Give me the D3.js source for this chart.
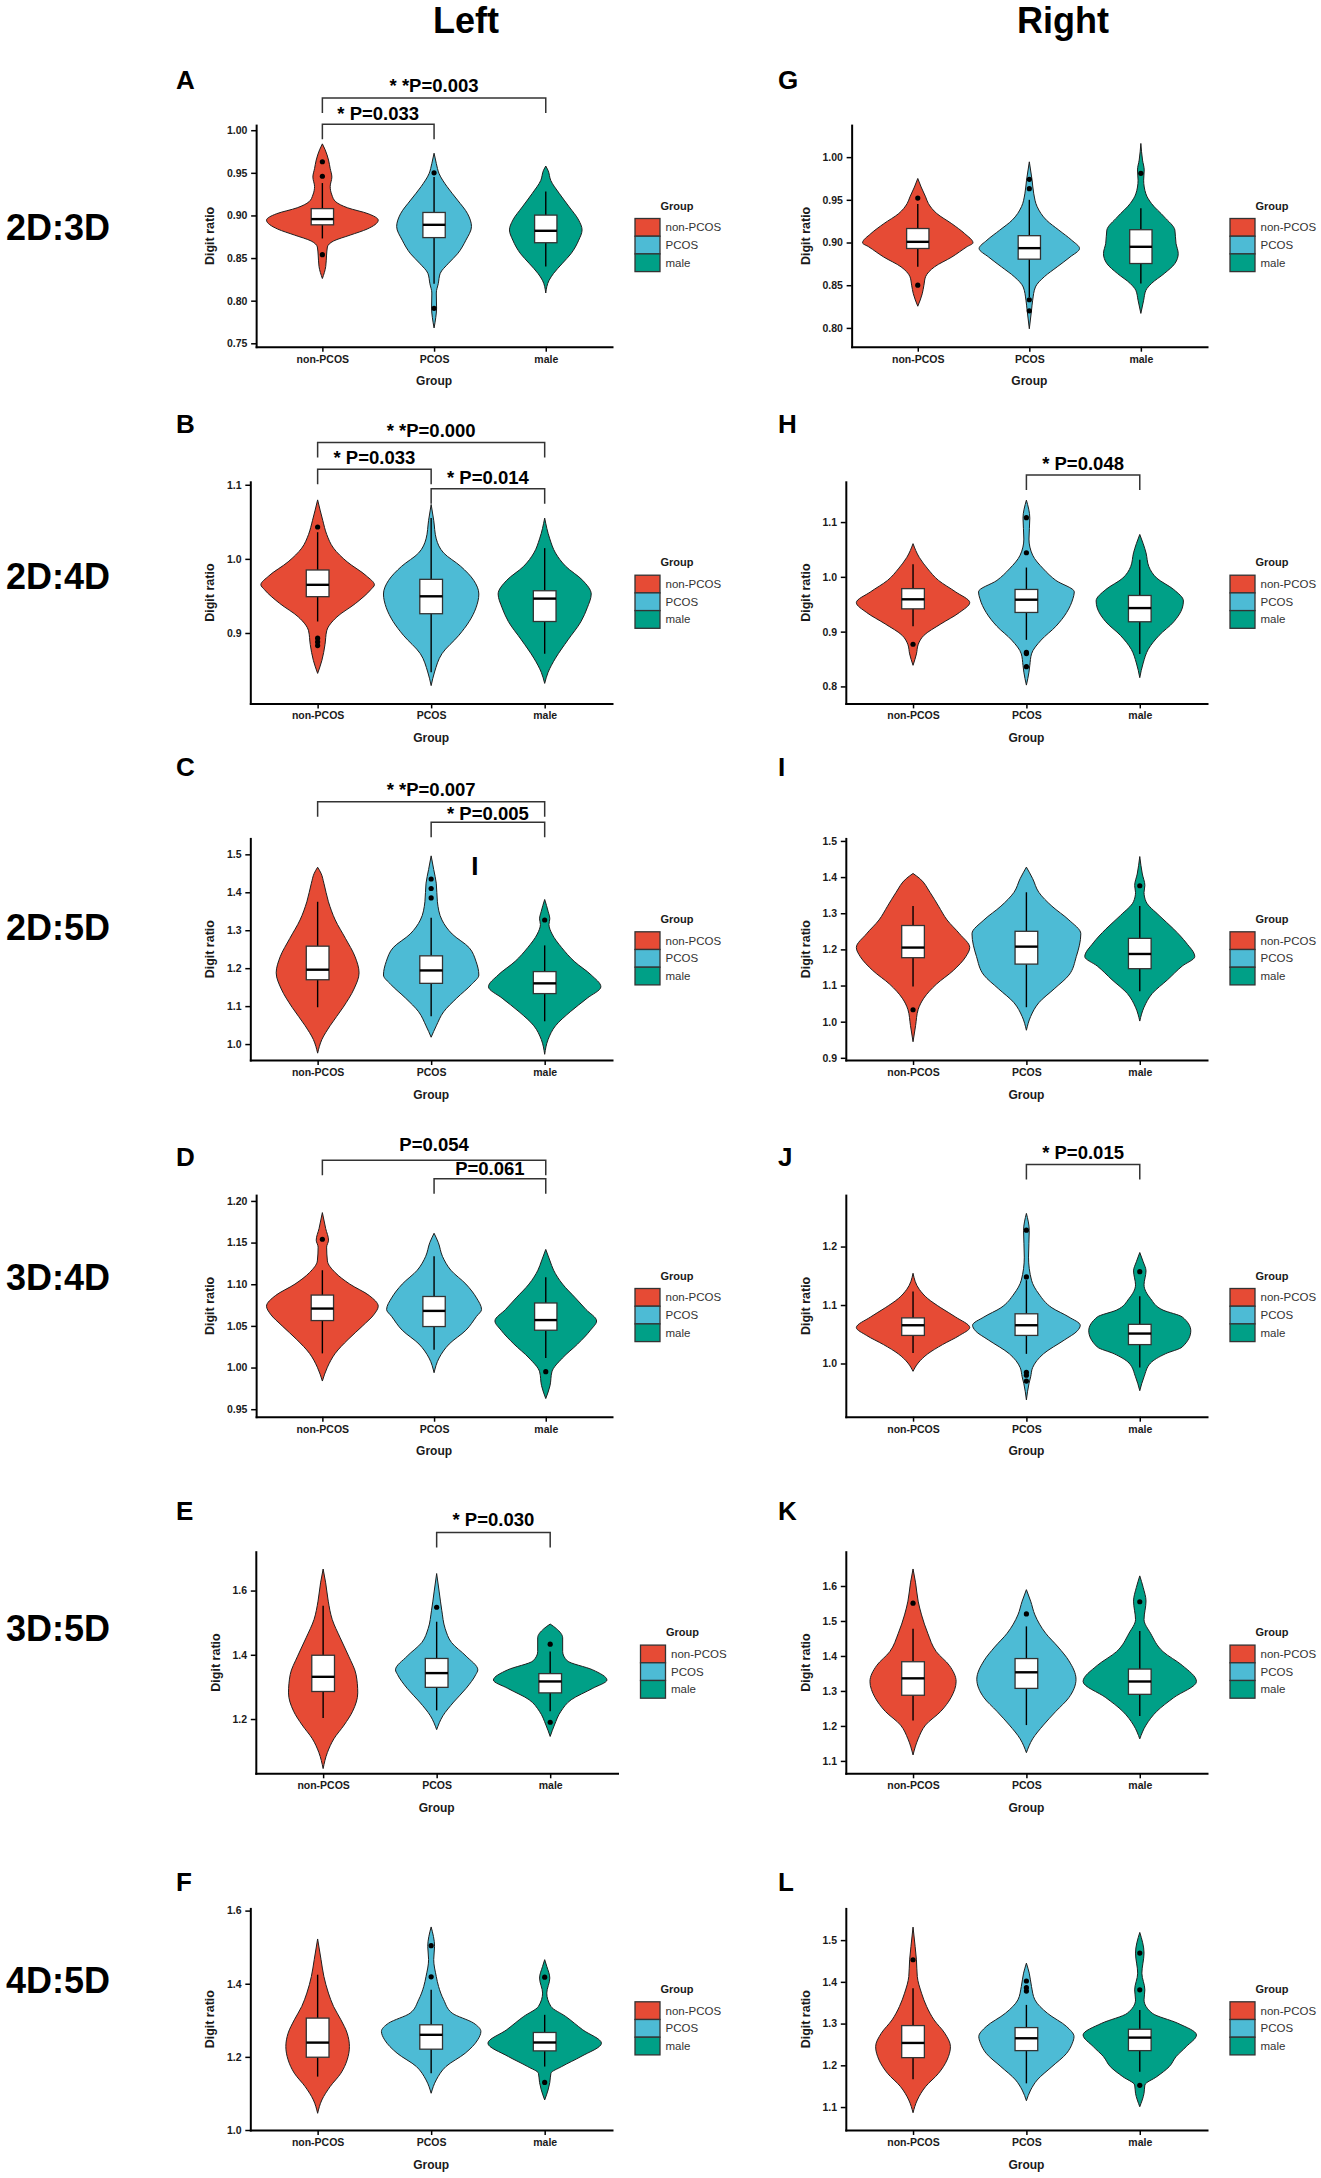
<!DOCTYPE html>
<html><head><meta charset="utf-8">
<script src="https://cdn.jsdelivr.net/npm/d3@7"></script>
<style>
body{margin:0;background:#fff}
svg{display:block}
text{font-family:"Liberation Sans",Arial,Helvetica,sans-serif}
</style>
</head><body>
<svg id="chart" width="1321" height="2178"></svg>
<script>
// ---------------- DATA ----------------
const groups = ["non-PCOS", "PCOS", "male"];
const groupColors = ["#E64B35", "#4DBBD5", "#00A087"];
const panelLetters = ["A","B","C","D","E","F","G","H","I","J","K","L"];
const rowLabels = ["2D:3D","2D:4D","2D:5D","3D:4D","3D:5D","4D:5D"];
const columnTitles = ["Left","Right"];
const yAxisTitle = "Digit ratio";
const xAxisTitle = "Group";
const legendTitle = "Group";

const yDomains = [[0.746,1.006],[0.805,1.104],[0.958,1.542],[0.941,1.207],[1.031,1.721],[1.0,1.606],
                  [0.778,1.0375],[0.769,1.1735],[0.894,1.507],[0.909,1.288],[1.0646,1.698],[1.045,1.576]];
const yTickValues = [
  [0.75,0.80,0.85,0.90,0.95,1.00],
  [0.9,1.0,1.1],
  [1.0,1.1,1.2,1.3,1.4,1.5],
  [0.95,1.00,1.05,1.10,1.15,1.20],
  [1.2,1.4,1.6],
  [1.0,1.2,1.4,1.6],
  [0.80,0.85,0.90,0.95,1.00],
  [0.8,0.9,1.0,1.1],
  [0.9,1.0,1.1,1.2,1.3,1.4,1.5],
  [1.0,1.1,1.2],
  [1.1,1.2,1.3,1.4,1.5,1.6],
  [1.1,1.2,1.3,1.4,1.5]
];
const yTickDecimals = [2,1,1,2,1,1,2,1,1,1,1,1];

// violin outline: [value, relative half-width]
const violinProfiles = [
 [ // A
  [[0.826,0],[0.84,0.06],[0.8535,0.075],[0.863,0.09],[0.870,0.2],[0.877,0.5],[0.884,0.8],[0.8945,1.0],[0.902,0.82],[0.909,0.45],[0.916,0.24],[0.924,0.17],[0.934,0.14],[0.945,0.17],[0.955,0.14],[0.965,0.11],[0.977,0.05],[0.984,0]],
  [[0.768,0],[0.78,0.03],[0.791,0.045],[0.809,0.04],[0.820,0.075],[0.832,0.11],[0.844,0.26],[0.855,0.42],[0.871,0.57],[0.887,0.67],[0.902,0.6],[0.918,0.42],[0.934,0.23],[0.949,0.09],[0.961,0.04],[0.973,0]],
  [[0.809,0],[0.824,0.06],[0.832,0.14],[0.844,0.3],[0.855,0.45],[0.871,0.59],[0.883,0.65],[0.8945,0.59],[0.910,0.42],[0.926,0.24],[0.941,0.09],[0.953,0.04],[0.958,0]]
 ],
 [ // B
  [[0.8455,0],[0.863,0.075],[0.8845,0.13],[0.903,0.16],[0.9217,0.34],[0.940,0.67],[0.9588,0.94],[0.965,1.0],[0.977,0.86],[0.996,0.52],[1.0145,0.28],[1.033,0.16],[1.052,0.09],[1.0796,0]],
  [[0.829,0],[0.8474,0.06],[0.872,0.19],[0.897,0.49],[0.9155,0.67],[0.934,0.79],[0.9526,0.84],[0.971,0.75],[0.99,0.52],[1.008,0.22],[1.027,0.09],[1.052,0.045],[1.0734,0]],
  [[0.832,0],[0.847,0.06],[0.866,0.19],[0.8907,0.41],[0.9155,0.64],[0.934,0.75],[0.9526,0.82],[0.971,0.67],[0.99,0.37],[1.008,0.19],[1.027,0.09],[1.055,0]]
 ],
 [ // C
  [[0.976,0],[1.012,0.075],[1.0484,0.22],[1.097,0.45],[1.145,0.64],[1.1877,0.73],[1.23,0.66],[1.2785,0.49],[1.327,0.31],[1.375,0.19],[1.424,0.11],[1.45,0.06],[1.466,0]],
  [[1.018,0],[1.048,0.09],[1.085,0.22],[1.121,0.45],[1.157,0.71],[1.182,0.84],[1.218,0.79],[1.254,0.67],[1.29,0.37],[1.327,0.19],[1.375,0.11],[1.424,0.09],[1.46,0.045],[1.496,0]],
  [[0.973,0],[1.012,0.06],[1.048,0.19],[1.085,0.45],[1.121,0.75],[1.151,0.99],[1.182,0.82],[1.218,0.52],[1.254,0.3],[1.29,0.13],[1.315,0.075],[1.33,0.09],[1.35,0.06],[1.381,0]]
 ],
 [ // D
  [[0.9838,0],[1.0004,0.09],[1.017,0.23],[1.0337,0.46],[1.05,0.72],[1.0642,0.93],[1.0736,1.0],[1.0864,0.84],[1.1002,0.49],[1.114,0.23],[1.128,0.09],[1.1446,0.076],[1.1529,0.11],[1.1667,0.06],[1.186,0]],
  [[0.9938,0],[1.0115,0.09],[1.0282,0.27],[1.0448,0.57],[1.0614,0.76],[1.0697,0.85],[1.0836,0.76],[1.1002,0.57],[1.1169,0.3],[1.1335,0.15],[1.15,0.076],[1.1612,0]],
  [[0.9628,0],[0.9783,0.076],[0.9949,0.11],[1.0115,0.3],[1.0282,0.57],[1.0448,0.8],[1.0559,0.91],[1.0697,0.72],[1.0836,0.53],[1.1002,0.3],[1.1169,0.14],[1.128,0.076],[1.1418,0]]
 ],
 [ // E
  [[1.0457,0],[1.0957,0.075],[1.1386,0.19],[1.1814,0.37],[1.2243,0.52],[1.2814,0.61],[1.3386,0.58],[1.3957,0.45],[1.4529,0.3],[1.51,0.16],[1.567,0.09],[1.624,0.045],[1.667,0]],
  [[1.167,0],[1.21,0.11],[1.2529,0.3],[1.2957,0.52],[1.3386,0.69],[1.353,0.725],[1.3957,0.52],[1.4386,0.26],[1.4814,0.15],[1.5386,0.09],[1.5957,0.045],[1.653,0]],
  [[1.1457,0],[1.1814,0.075],[1.2243,0.19],[1.26,0.37],[1.2957,0.75],[1.3214,1.0],[1.353,0.75],[1.3814,0.3],[1.41,0.22],[1.4529,0.22],[1.4814,0.11],[1.4957,0]]
 ],
 [ // F
  [[1.0457,0],[1.0822,0.075],[1.1187,0.22],[1.1553,0.41],[1.1918,0.52],[1.2283,0.56],[1.2648,0.52],[1.3014,0.41],[1.3379,0.28],[1.3744,0.19],[1.42,0.11],[1.4658,0.06],[1.5224,0]],
  [[1.1005,0],[1.137,0.09],[1.1735,0.26],[1.21,0.6],[1.2466,0.82],[1.2694,0.876],[1.2922,0.75],[1.3196,0.37],[1.3562,0.22],[1.3927,0.13],[1.42,0.09],[1.4658,0.045],[1.5023,0.06],[1.5553,0]],
  [[1.0822,0],[1.1096,0.06],[1.1297,0.09],[1.1553,0.11],[1.1735,0.3],[1.2009,0.64],[1.2374,1.0],[1.274,0.67],[1.3105,0.37],[1.3379,0.11],[1.3744,0.037],[1.4155,0.09],[1.4475,0.037],[1.4658,0]]
 ],
 [ // G
  [[0.8254,0],[0.840,0.08],[0.850,0.11],[0.860,0.14],[0.8715,0.3],[0.883,0.61],[0.895,0.88],[0.8996,0.99],[0.9105,0.84],[0.922,0.61],[0.934,0.34],[0.9457,0.19],[0.9535,0.14],[0.965,0.06],[0.975,0]],
  [[0.799,0],[0.821,0.04],[0.8324,0.06],[0.848,0.11],[0.86,0.27],[0.8715,0.5],[0.883,0.73],[0.893,0.9],[0.9027,0.76],[0.9145,0.53],[0.926,0.31],[0.942,0.14],[0.957,0.08],[0.973,0.05],[0.9945,0]],
  [[0.817,0],[0.8324,0.05],[0.844,0.09],[0.852,0.19],[0.8637,0.42],[0.8754,0.61],[0.887,0.67],[0.899,0.63],[0.9145,0.61],[0.930,0.42],[0.9457,0.19],[0.957,0.09],[0.973,0.05],[0.985,0.06],[0.9965,0.03],[1.016,0]]
 ],
 [ // H
  [[0.8385,0],[0.8594,0.06],[0.8762,0.09],[0.893,0.19],[0.914,0.49],[0.935,0.82],[0.953,1.0],[0.9726,0.75],[0.9935,0.45],[1.0145,0.26],[1.0355,0.11],[1.0606,0]],
  [[0.8024,0],[0.826,0.045],[0.8385,0.06],[0.8594,0.09],[0.8846,0.26],[0.9097,0.52],[0.935,0.71],[0.96,0.82],[0.9726,0.845],[0.9935,0.52],[1.0145,0.3],[1.0396,0.11],[1.069,0.045],[1.107,0.06],[1.14,0]],
  [[0.816,0],[0.8427,0.06],[0.8678,0.15],[0.893,0.34],[0.918,0.6],[0.943,0.75],[0.956,0.77],[0.9768,0.6],[0.9977,0.3],[1.0187,0.16],[1.0438,0.11],[1.0606,0.06],[1.0774,0]]
 ],
 [ // I
  [[0.9445,0],[0.989,0.045],[1.0335,0.09],[1.065,0.19],[1.1034,0.41],[1.1415,0.71],[1.1797,0.93],[1.205,1.0],[1.2432,0.82],[1.2814,0.6],[1.3195,0.45],[1.3576,0.3],[1.3958,0.12],[1.41,0]],
  [[0.9763,0],[1.0144,0.075],[1.0526,0.22],[1.0907,0.49],[1.1288,0.75],[1.18,0.88],[1.2432,0.96],[1.2814,0.75],[1.3195,0.45],[1.3576,0.22],[1.3958,0.11],[1.4275,0]],
  [[1.0017,0],[1.04,0.075],[1.078,0.22],[1.116,0.49],[1.154,0.75],[1.18,0.97],[1.218,0.82],[1.256,0.6],[1.294,0.34],[1.3322,0.11],[1.3576,0.075],[1.3767,0.09],[1.4085,0.045],[1.4568,0]]
 ],
 [ // J
  [[0.9866,0],[1.0008,0.09],[1.0165,0.26],[1.0323,0.52],[1.048,0.82],[1.0614,1.0],[1.0795,0.75],[1.0953,0.49],[1.111,0.26],[1.1268,0.11],[1.1543,0]],
  [[0.9378,0],[0.9654,0.045],[0.9772,0.075],[0.993,0.11],[1.0165,0.3],[1.0402,0.67],[1.0559,0.9],[1.0654,0.95],[1.0795,0.75],[1.0953,0.45],[1.1189,0.22],[1.1425,0.09],[1.1819,0.037],[1.2276,0.05],[1.2567,0]],
  [[0.9535,0],[0.9772,0.075],[1.0008,0.19],[1.0165,0.45],[1.0283,0.75],[1.0559,0.9],[1.0795,0.75],[1.0913,0.41],[1.111,0.19],[1.1346,0.075],[1.1583,0.11],[1.174,0.06],[1.1898,0]]
 ],
 [ // K
  [[1.117,0],[1.163,0.09],[1.2024,0.22],[1.2417,0.49],[1.281,0.67],[1.327,0.76],[1.373,0.64],[1.4123,0.41],[1.4648,0.26],[1.5173,0.15],[1.5567,0.09],[1.609,0.045],[1.6486,0]],
  [[1.1236,0],[1.163,0.11],[1.2024,0.3],[1.2417,0.52],[1.281,0.75],[1.3336,0.875],[1.386,0.75],[1.4255,0.56],[1.4648,0.34],[1.5173,0.15],[1.5567,0.075],[1.5895,0]],
  [[1.163,0],[1.2024,0.11],[1.2417,0.3],[1.281,0.6],[1.327,1.0],[1.373,0.75],[1.4123,0.41],[1.4648,0.19],[1.5042,0.075],[1.5567,0.11],[1.596,0.06],[1.6289,0]]
 ],
 [ // L
  [[1.0864,0],[1.1168,0.075],[1.1488,0.22],[1.1808,0.45],[1.2128,0.6],[1.2448,0.66],[1.2768,0.56],[1.3088,0.37],[1.3408,0.24],[1.3728,0.15],[1.4128,0.075],[1.4528,0.06],[1.4848,0.037],[1.5312,0]],
  [[1.1152,0],[1.1408,0.075],[1.1648,0.19],[1.1968,0.45],[1.2288,0.71],[1.2528,0.81],[1.2688,0.84],[1.2928,0.71],[1.3248,0.37],[1.3568,0.15],[1.3888,0.09],[1.4208,0.05],[1.4448,0]],
  [[1.1008,0],[1.1328,0.075],[1.1528,0.09],[1.1728,0.3],[1.1968,0.52],[1.2208,0.64],[1.2448,0.82],[1.2728,1.0],[1.3008,0.67],[1.3248,0.22],[1.3568,0.075],[1.3808,0.09],[1.4208,0.037],[1.4688,0.075],[1.5184,0]]
 ]
];

// box stats: [lower whisker, Q1, median, Q3, upper whisker]
const boxStats = [
 [[0.873,0.889,0.8957,0.908,0.938],[0.82,0.874,0.889,0.9035,0.945],[0.84,0.868,0.882,0.9004,0.928]],
 [[0.9155,0.949,0.965,0.985,1.036],[0.847,0.926,0.9495,0.9724,1.055],[0.872,0.9155,0.9464,0.957,1.0145]],
 [[1.097,1.1695,1.196,1.258,1.375],[1.073,1.16,1.194,1.2325,1.333],[1.06,1.133,1.16,1.191,1.26]],
 [[1.017,1.0564,1.0708,1.087,1.1168],[1.0215,1.0492,1.068,1.0853,1.1335],[1.0115,1.0448,1.057,1.0775,1.1085]],
 [[1.203,1.2857,1.3314,1.3986,1.553],[1.227,1.2986,1.343,1.3886,1.503],[1.224,1.2814,1.317,1.3414,1.41]],
 [[1.146,1.199,1.239,1.306,1.4247],[1.1553,1.221,1.2603,1.2877,1.3836],[1.1735,1.2164,1.2393,1.2667,1.315]],
 [[0.8715,0.893,0.9008,0.9164,0.945],[0.836,0.8805,0.8934,0.908,0.95],[0.852,0.8754,0.895,0.915,0.94]],
 [[0.91,0.9416,0.959,0.9785,1.023],[0.885,0.935,0.9583,0.977,1.017],[0.8594,0.918,0.943,0.966,1.031]],
 [[1.097,1.177,1.205,1.266,1.32],[1.04,1.1593,1.2076,1.25,1.358],[1.084,1.1466,1.1873,1.2305,1.32]],
 [[1.018,1.048,1.0654,1.078,1.123],[1.0165,1.048,1.0654,1.085,1.1425],[0.993,1.0323,1.0512,1.067,1.115]],
 [[1.2155,1.2877,1.336,1.3835,1.478],[1.2024,1.3073,1.3533,1.3926,1.4845],[1.2286,1.2903,1.327,1.3625,1.4714]],
 [[1.1664,1.2184,1.2536,1.2952,1.3848],[1.1568,1.2352,1.2648,1.2904,1.3448],[1.1848,1.2352,1.2664,1.2864,1.3328]]
];

const outlierValues = [
 [[0.963,0.946,0.854],[0.950,0.791],[]],
 [[1.043,0.893,0.888,0.883],[],[]],
 [[],[1.435,1.41,1.385],[1.327]],
 [[1.154],[],[0.995]],
 [[],[1.548],[1.433,1.19]],
 [[],[1.504,1.419],[1.418,1.13]],
 [[0.952,0.850],[0.974,0.963,0.833,0.820],[0.981]],
 [[0.877],[1.108,1.044,0.862,0.86,0.836],[]],
 [[1.033],[],[1.376]],
 [[],[1.228,1.148,0.985,0.98,0.97],[1.157]],
 [[1.551],[1.52],[1.555]],
 [[1.453],[1.402,1.386,1.378],[1.469,1.381,1.152]]
];

// significance brackets: panel, from group, to group, y value, label
const bracketPanels = [0,0,1,1,1,2,2,3,3,4,7,9];
const bracketFrom   = [0,0,0,0,1,0,1,0,1,1,1,1];
const bracketTo     = [2,1,2,1,2,2,2,2,2,2,2,2];
const bracketY      = [1.0379,1.007,1.157,1.121,1.0945,1.6385,1.5847,1.2487,1.2266,1.781,1.1861,1.3405];
const bracketLabels = ["* *P=0.003","* P=0.033","* *P=0.000","* P=0.033","* P=0.014","* *P=0.007","* P=0.005","P=0.054","P=0.061","* P=0.030","* P=0.048","* P=0.015"];
const bracketGap    = [6,4,6,5,5,6,2,9,4,6,5,5];

// ---------------- LAYOUT ----------------
const svg = d3.select("#chart");
const rowBase = [346.7, 703.4, 1060, 1416.7, 1773.3, 2130];
const plotH = 221.6;
const colLabelLeft = [227, 822.5];
const colRight = [612, 1207];
const colYTitleX = [210, 806];
const colLetterX = [176, 778];
const colLegendX = [635, 1230];
const colTitleX = [466, 1063];
const letterBaseline = [89, 433, 775.5, 1166, 1520, 1890.5];
const rowLabelBaseline = [240, 589, 940, 1290, 1641, 1993];
const panelShift = {E: 5.5};

function textWidth(str, size, weight) {
  const t = svg.append("text").attr("font-size", size).attr("font-weight", weight).text(str);
  const w = t.node().getComputedTextLength();
  t.remove();
  return w;
}

// column titles
columnTitles.forEach((t, c) => {
  svg.append("text").attr("x", colTitleX[c]).attr("y", 33).attr("text-anchor", "middle")
    .attr("font-size", 36).attr("font-weight", "bold").attr("fill", "#000").text(t);
});
// row labels
rowLabels.forEach((t, r) => {
  svg.append("text").attr("x", 6).attr("y", rowLabelBaseline[r])
    .attr("font-size", 36).attr("font-weight", "bold").attr("fill", "#000").text(t);
});

panelLetters.forEach((letter, i) => {
  const col = Math.floor(i / 6), row = i % 6;
  const shift = panelShift[letter] || 0;
  const base = rowBase[row];
  const top = base - plotH;
  const fmt = d3.format("." + yTickDecimals[i] + "f");
  const maxW = d3.max(yTickValues[i], v => textWidth(fmt(v), 10.5, "bold"));
  const axisX = colLabelLeft[col] + shift + maxW + 8.7;
  const right = colRight[col] + shift;

  const x = d3.scalePoint().domain(groups).range([axisX, right]).padding(0.593);
  const y = d3.scaleLinear().domain(yDomains[i]).range([base, top]);
  const half = x.step() / 2;
  const boxW = x.step() * 0.2;

  const g = svg.append("g");

  // panel letter
  svg.append("text").attr("x", colLetterX[col]).attr("y", letterBaseline[row])
    .attr("font-size", 26).attr("font-weight", "bold").attr("fill", "#000").text(letter);

  // violins
  groups.forEach((grp, k) => {
    const cx = x(grp);
    const area = d3.area().curve(d3.curveMonotoneY)
      .y(d => y(d[0]))
      .x0(d => cx - d[1] * half)
      .x1(d => cx + d[1] * half);
    g.append("path").datum(violinProfiles[i][k]).attr("d", area)
      .attr("fill", groupColors[k]).attr("stroke", "#1e1e1e").attr("stroke-width", 1);
  });

  // boxplots
  groups.forEach((grp, k) => {
    const cx = x(grp);
    const [lo, q1, med, q3, hi] = boxStats[i][k];
    g.append("line").attr("x1", cx).attr("x2", cx).attr("y1", y(hi)).attr("y2", y(q3))
      .attr("stroke", "#000").attr("stroke-width", 1.4);
    g.append("line").attr("x1", cx).attr("x2", cx).attr("y1", y(q1)).attr("y2", y(lo))
      .attr("stroke", "#000").attr("stroke-width", 1.4);
    g.append("rect").attr("x", cx - boxW / 2).attr("width", boxW)
      .attr("y", y(q3)).attr("height", y(q1) - y(q3))
      .attr("fill", "#fff").attr("stroke", "#333").attr("stroke-width", 1.3);
    g.append("line").attr("x1", cx - boxW / 2).attr("x2", cx + boxW / 2).attr("y1", y(med)).attr("y2", y(med))
      .attr("stroke", "#000").attr("stroke-width", 2.4);
    g.selectAll(null).data(outlierValues[i][k]).enter().append("circle")
      .attr("cx", cx).attr("cy", d => y(d)).attr("r", 2.6).attr("fill", "#000");
  });

  // axes
  const yAxis = d3.axisLeft(y).tickValues(yTickValues[i]).tickFormat(fmt).tickSize(5).tickSizeOuter(0).tickPadding(3.7);
  const ya = g.append("g").attr("transform", `translate(${axisX},0)`).call(yAxis);
  const xAxis = d3.axisBottom(x).tickSize(5).tickSizeOuter(0).tickPadding(3.5);
  const xa = g.append("g").attr("transform", `translate(0,${base})`).call(xAxis);
  [ya, xa].forEach(a => {
    a.select(".domain").attr("stroke", "#000").attr("stroke-width", 2).attr("stroke-linecap", "square");
    a.selectAll(".tick line").attr("stroke", "#000").attr("stroke-width", 1.5);
    a.selectAll(".tick text").attr("font-size", 10.5).attr("font-weight", "bold").attr("fill", "#1a1a1a")
      .attr("font-family", '"Liberation Sans",Arial,sans-serif');
  });

  // axis titles
  g.append("text").attr("transform", `translate(${colYTitleX[col] + shift},${(top + base) / 2}) rotate(-90)`)
    .attr("text-anchor", "middle").attr("dy", "0.35em")
    .attr("font-size", 12.5).attr("font-weight", "bold").attr("fill", "#1a1a1a").text(yAxisTitle);
  g.append("text").attr("x", (axisX + right) / 2).attr("y", base + 38.5).attr("text-anchor", "middle")
    .attr("font-size", 12).attr("font-weight", "bold").attr("fill", "#1a1a1a").text(xAxisTitle);

  // legend
  const lx = colLegendX[col] + shift;
  const ltop = base - 128.2;
  const keyH = 17.7, keyW = 25;
  g.append("text").attr("x", lx + 25.5).attr("y", ltop - 9)
    .attr("font-size", 11).attr("font-weight", "bold").attr("fill", "#1a1a1a").text(legendTitle);
  groups.forEach((grp, k) => {
    g.append("rect").attr("x", lx).attr("y", ltop + k * keyH).attr("width", keyW).attr("height", keyH)
      .attr("fill", groupColors[k]).attr("stroke", "#333").attr("stroke-width", 1.3);
    g.append("text").attr("x", lx + 30.5).attr("y", ltop + k * keyH + keyH / 2).attr("dy", "0.35em")
      .attr("font-size", 11.5).attr("fill", "#333").text(grp);
  });

  // significance brackets
  bracketPanels.forEach((p, b) => {
    if (p !== i) return;
    const x1 = x(groups[bracketFrom[b]]), x2 = x(groups[bracketTo[b]]);
    const yb = y(bracketY[b]);
    g.append("path").attr("d", `M${x1},${yb + 15}V${yb}H${x2}V${yb + 15}`)
      .attr("fill", "none").attr("stroke", "#333").attr("stroke-width", 1.5);
    g.append("text").attr("x", (x1 + x2) / 2).attr("y", yb - bracketGap[b]).attr("text-anchor", "middle")
      .attr("font-size", 18.5).attr("font-weight", "bold").attr("fill", "#000").text(bracketLabels[b]);
  });

  // stray panel mark inside panel C of the original figure
  if (letter === "C") {
    g.append("text").attr("x", (x(groups[1]) + x(groups[2])) / 2 - 13).attr("y", y(1.445))
      .attr("text-anchor", "middle").attr("font-size", 26).attr("font-weight", "bold").attr("fill", "#000").text("I");
  }
});
</script>
</body></html>
